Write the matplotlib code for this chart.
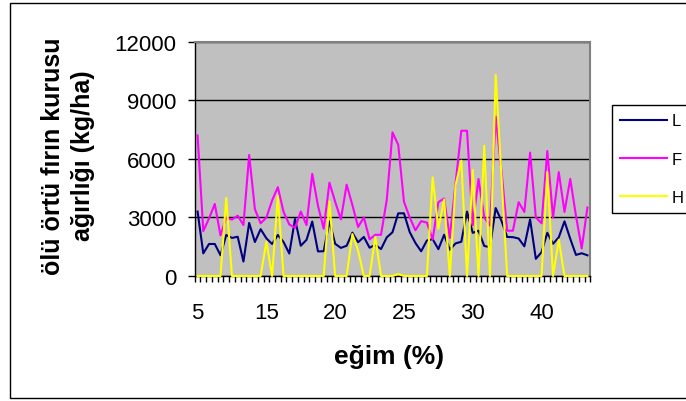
import matplotlib.pyplot as plt
import numpy as np
from matplotlib.patches import Rectangle

# category labels shown on the x axis (every 12th category)
slope_labels = ['5', '15', '20', '25', '30', '40']
label_pos = [0, 12, 24, 36, 48, 60]

L = [3300, 1160, 1640, 1640, 1065, 2100, 1950, 2010, 740, 2720,
     1740, 2400, 1930, 1640, 2100, 1740, 1150, 2920, 1550, 1850,
     2790, 1260, 1270, 2800, 1650, 1440, 1550, 2220, 1730, 2000,
     1450, 1590, 1380, 1980, 2240, 3210, 3210, 2250, 1690, 1265,
     1820, 1890, 1375, 2110, 1350, 1670, 1755, 3300, 2210, 2320,
     1540, 1475, 3480, 2830, 2000, 1990, 1920, 1520, 2900, 880,
     1220, 2210, 1650, 1980, 2800, 1910, 1080, 1165, 1060]

F = [7200, 2300, 2950, 3690, 2080, 2990, 2890, 3090, 2610, 6200,
     3420, 2700, 2990, 3870, 4550, 3280, 2640, 2470, 3300, 2610,
     5230, 3600, 2420, 4780, 3800, 2900, 4680, 3640, 2510, 3000,
     1880, 2110, 2110, 3900, 7360, 6720, 3800, 3000, 2340, 2810,
     2730, 1870, 3780, 3970, 1950, 4750, 7440, 7440, 2600, 4970,
     3000, 2580, 8160, 5400, 2320, 2320, 3780, 3280, 6320, 3000,
     2700, 6400, 3000, 5320, 3280, 4970, 3085, 1410, 3510]

H = [0, 0, 0, 0, 0, 4000, 0, 0, 0, 0,
     0, 0, 1760, 0, 4100, 0, 0, 0, 0, 0,
     0, 0, 0, 3820, 0, 0, 0, 2150, 1300, 0,
     0, 2000, 0, 0, 0, 100, 0, 0, 0, 0,
     0, 5050, 2420, 3920, 0, 4650, 5910, 0, 5430, 0,
     6670, 0, 10300, 5100, 0, 0, 0, 0, 0, 0,
     0, 5320, 0, 1850, 0, 0, 0, 0, 0]

plt.rcParams['font.family'] = 'Liberation Sans'

W, Hpx = 686, 402
fig = plt.figure(figsize=(W / 100, Hpx / 100), dpi=100)
ax = fig.add_axes([194.7 / W, 1 - 277 / Hpx, (590.3 - 194.7) / W, (277 - 42.7) / Hpx])

x = np.arange(len(L))
ax.plot(x, L, color='#000080', lw=1.5, label='L', zorder=3, clip_on=False)
ax.plot(x, F, color='#FF00FF', lw=1.5, label='F', zorder=3, clip_on=False)
ax.plot(x, H, color='#FFFF00', lw=1.5, label='H', zorder=3, clip_on=False)

ax.set_facecolor('#C0C0C0')
ax.set_xlim(-0.5, len(L) - 0.5)
ax.set_ylim(0, 12000)
ax.set_yticks(np.arange(0, 12001, 3000))
ax.set_axisbelow(True)
ax.yaxis.grid(True, color='black', lw=1)

for s in ['left', 'bottom']:
    ax.spines[s].set_color('black')
    ax.spines[s].set_linewidth(1)
for s in ['top', 'right']:
    ax.spines[s].set_color('#808080')
    ax.spines[s].set_linewidth(1.5)

ax.set_xticks(label_pos, slope_labels)
ax.set_xticks(np.arange(-0.5, len(L)), minor=True)
ax.tick_params(axis='x', which='major', length=0, pad=19, labelsize=16)
ax.tick_params(axis='x', which='minor', length=4, width=1, direction='out')
ax.tick_params(axis='y', length=5, width=1, pad=8, labelsize=16)

fig.text(68 / W, 1 - 156 / Hpx, 'ölü örtü fırın kurusu\nağırlığı (kg/ha)',
         rotation=90, ha='center', va='center', multialignment='center',
         fontsize=18, fontweight='bold', linespacing=1.3)
fig.text(389 / W, 1 - 357 / Hpx, 'eğim (%)', ha='center', va='center',
         fontsize=19, fontweight='bold')

leg = fig.legend(loc='upper left', bbox_to_anchor=(612 / W, 1 - 106 / Hpx),
                 fancybox=False, edgecolor='black', framealpha=1, fontsize=12,
                 handlelength=2.8, handletextpad=0.3, borderpad=0.5,
                 labelspacing=1.4, borderaxespad=0)
leg.get_frame().set_linewidth(1)

fig.add_artist(Rectangle((10 / W, 3 / Hpx), 1.0, 395 / Hpx, transform=fig.transFigure,
                         fill=False, edgecolor='black', lw=1, clip_on=False))

fig.savefig('out.png', dpi=100)
